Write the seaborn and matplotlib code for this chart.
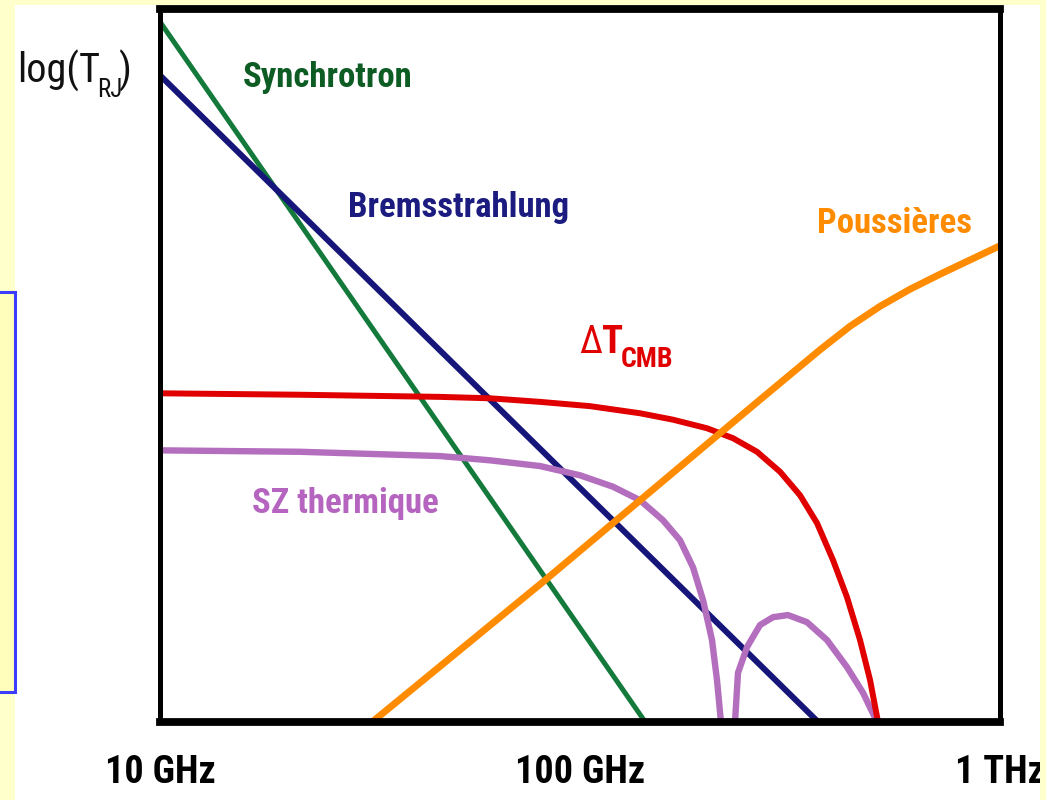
import matplotlib
matplotlib.use("Agg")
import matplotlib.pyplot as plt
from matplotlib.patches import Rectangle
from matplotlib.ticker import NullLocator
import seaborn as sns

# Foreground spectra: frequency in GHz, log of Rayleigh-Jeans temperature (arbitrary units)
freq_sync = [10, 143]
logT_sync = [9.82, 0.0]

freq_brem = [10, 369]
logT_brem = [9.07, 0.0]

freq_dust = [32.0, 82.6, 173.0, 215.4, 268.3, 316.2, 372.8, 439.4, 518.0, 610.6, 719.7, 848.3, 1000]
logT_dust = [0.0, 1.99, 3.58, 4.05, 4.52, 4.87, 5.22, 5.55, 5.83, 6.07, 6.28, 6.48, 6.68]

freq_cmb = [10, 21.5, 46.4, 61.1, 80.3, 105.6, 139.0, 166.5, 200.6, 231.4, 263.9, 299.4,
            334.1, 366.7, 400.4, 432.2, 464.2, 490.4, 512.4]
logT_cmb = [4.61, 4.59, 4.56, 4.54, 4.49, 4.43, 4.33, 4.24, 4.12, 3.98, 3.79, 3.51,
            3.18, 2.79, 2.27, 1.75, 1.15, 0.59, 0.0]

# Thermal SZ: decrement below the null, increment above it
freq_sz_low = [10, 21.5, 46.4, 61.1, 80.3, 100.0, 119.8, 139.0, 157.6, 173.0, 185.8, 196.3,
               206.2, 211.9, 216.6]
logT_sz_low = [3.81, 3.79, 3.73, 3.67, 3.59, 3.46, 3.30, 3.11, 2.83, 2.55, 2.17, 1.71,
               1.15, 0.59, 0.0]
freq_sz_high = [233.9, 237.8, 249.8, 268.3, 288.1, 312.7, 347.1, 387.3, 432.2, 471.9, 509.6]
logT_sz_high = [0.0, 0.69, 1.05, 1.36, 1.47, 1.50, 1.40, 1.15, 0.77, 0.41, 0.0]

tick_freqs = [10, 100, 1000]
tick_labels = ["10 GHz", "100 GHz", "1 THz"]

sns.set_style("white")
plt.rcParams["font.family"] = ["Roboto Condensed", "DejaVu Sans"]

W, H = 1046, 800
fig = plt.figure(figsize=(W / 100, H / 100), dpi=100, facecolor="#ffffcc")


def fx(x):
    return x / W


def fy(y):
    return 1 - y / H


# white slide panel and the framed box at the left margin
fig.patches.append(Rectangle((fx(15), 0), fx(1040 - 15), 1 - 5 / H, transform=fig.transFigure,
                             facecolor="white", edgecolor="none", zorder=-5))
fig.patches.append(Rectangle((fx(-6), fy(692)), fx(21), 400 / H, transform=fig.transFigure,
                             facecolor="#ffffbb", edgecolor="#3c3cff", linewidth=2.2, zorder=-4))

ax = fig.add_axes([fx(160), fy(722), fx(840), 713 / H])
ax.set_facecolor("white")

series = [
    (freq_sync, logT_sync, "#137a3c", 3.6),
    (freq_brem, logT_brem, "#16167a", 4.3),
    (freq_sz_low, logT_sz_low, "#b46ebe", 4.6),
    (freq_sz_high, logT_sz_high, "#b46ebe", 4.6),
    (freq_cmb, logT_cmb, "#e00000", 4.3),
    (freq_dust, logT_dust, "#ff8c00", 5.0),
]
for fr, lt, col, lw in series:
    sns.lineplot(x=fr, y=lt, ax=ax, color=col, linewidth=lw, estimator=None, sort=False,
                 solid_capstyle="butt", solid_joinstyle="round", legend=False)

ax.set_xscale("log")
ax.set_xlim(10, 1000)
ax.set_ylim(0, 10)
ax.set_yticks([])
ax.set_xticks(tick_freqs, tick_labels, fontfamily="Roboto Condensed", fontweight="bold")
ax.xaxis.set_minor_locator(NullLocator())
ax.tick_params(axis="x", direction="in", length=23, width=2.2, color="black",
               labelsize=27.5, pad=23, labelcolor="black")
ax.set_xlabel("")
ax.set_ylabel("")

for side, lw in (("left", 3.6), ("right", 3.6), ("top", 5.6), ("bottom", 5.6)):
    ax.spines[side].set_visible(True)
    ax.spines[side].set_color("black")
    ax.spines[side].set_linewidth(lw)

# strip of the slide background at the far right edge
fig.patches.append(Rectangle((fx(1040), 0), fx(10), 1, transform=fig.transFigure,
                             facecolor="#ffffcc", edgecolor="none", zorder=1))

bold = dict(fontfamily="Roboto Condensed", fontweight="bold", ha="left", va="baseline")
fig.text(fx(243), fy(87), "Synchrotron", color="#0d5c24", fontsize=25, **bold)
fig.text(fx(348), fy(217), "Bremsstrahlung", color="#1c1c80", fontsize=25, **bold)
fig.text(fx(817), fy(233), "Poussières", color="#ff8c00", fontsize=25, **bold)
fig.text(fx(252), fy(513), "SZ thermique", color="#b565c0", fontsize=25, **bold)

fig.text(fx(579), fy(353), "Δ", color="#e00000", fontsize=27, fontfamily="Roboto Condensed",
         ha="left", va="baseline")
fig.text(fx(602), fy(353), "T", color="#e00000", fontsize=28, **bold)
fig.text(fx(621), fy(367), "CMB", color="#e00000", fontsize=20, **bold)

fig.text(fx(17), fy(83), "log(T", color="#111111", fontsize=29, fontfamily="Roboto Condensed",
         ha="left", va="baseline")
fig.text(fx(97), fy(97), "RJ", color="#111111", fontsize=18, fontfamily="Roboto Condensed",
         ha="left", va="baseline")
fig.text(fx(119), fy(83), ")", color="#111111", fontsize=29, fontfamily="Roboto Condensed",
         ha="left", va="baseline")

fig.savefig("out.png", dpi=100, facecolor=fig.get_facecolor())
